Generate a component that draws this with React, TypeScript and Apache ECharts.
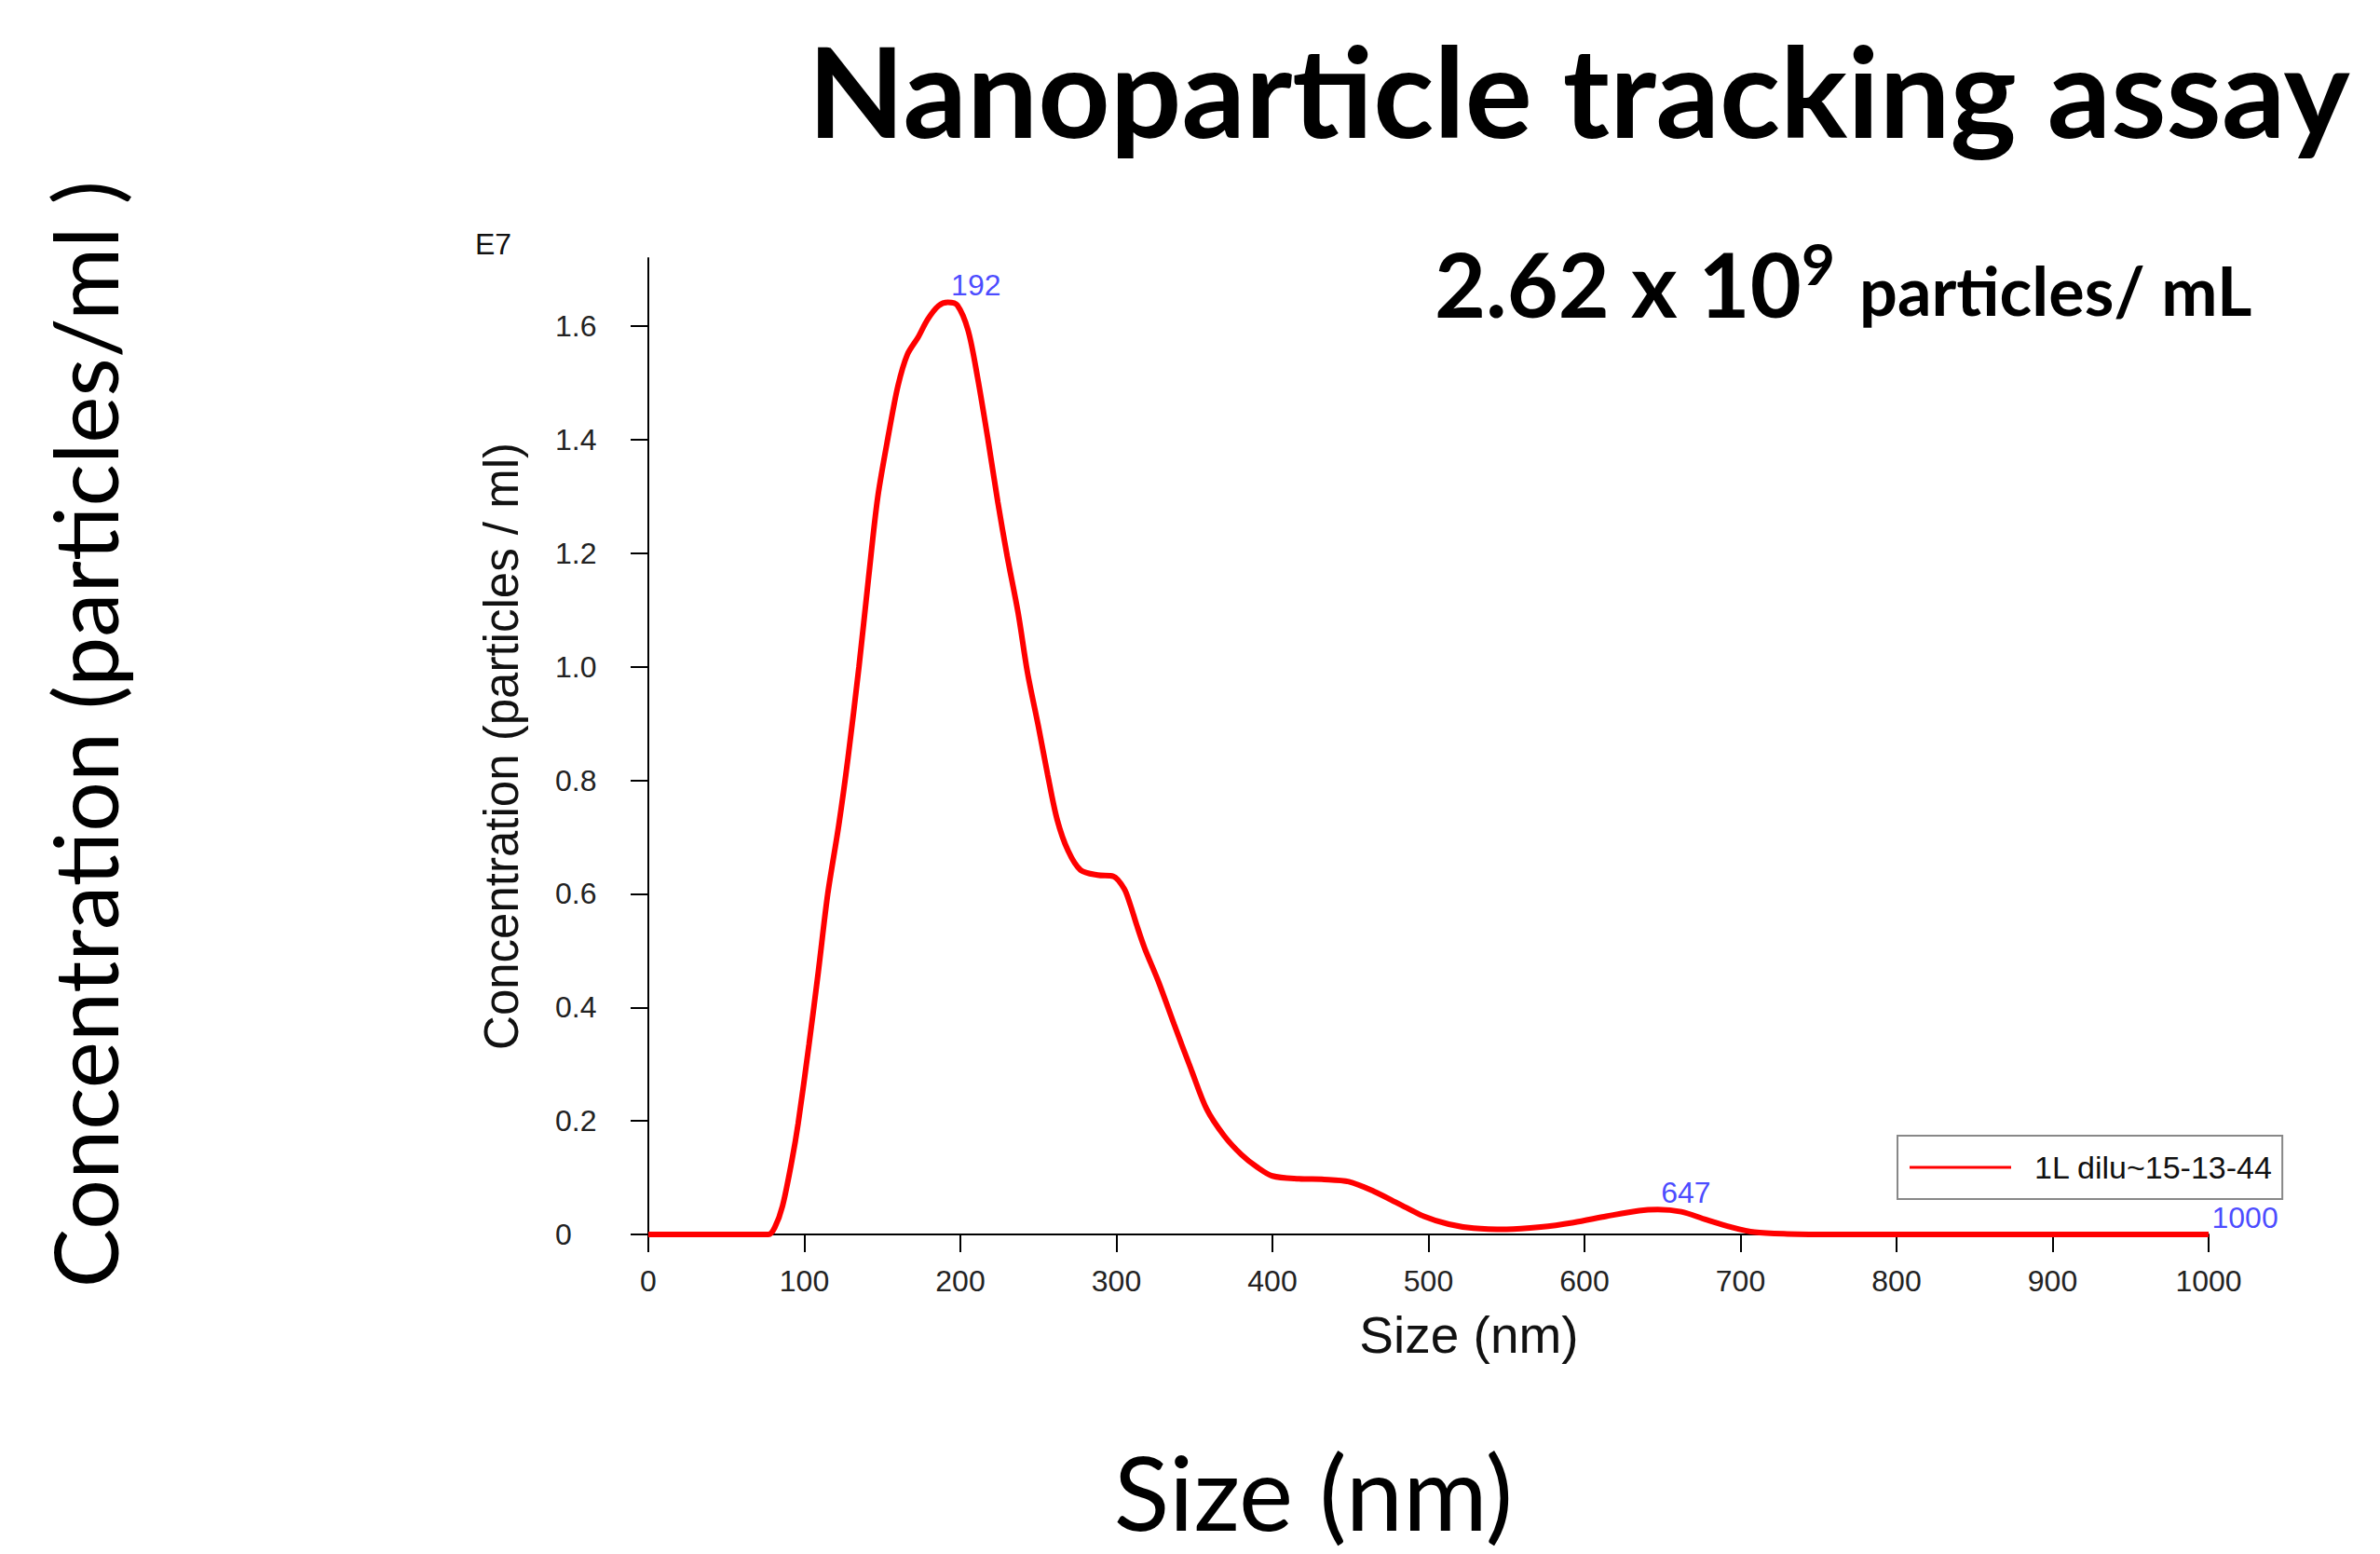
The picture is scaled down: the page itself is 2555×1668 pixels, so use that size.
import React, { useEffect, useRef } from "react";
import * as echarts from "echarts";

// Size (nm)
const sizes = [
  0, 20, 40, 60, 77, 81, 86, 92, 96, 103, 109, 115, 122, 128, 135, 141, 147, 154, 160, 166,
  173, 179, 186, 192, 198, 205, 211, 218, 224, 230, 237, 243, 250, 256, 262, 269, 277, 288,
  298, 305, 309, 313, 318, 327, 337, 348, 358, 369, 380, 390, 400, 417, 433, 449, 465, 481,
  497, 513, 529, 550, 572, 593, 614, 635, 647, 662, 678, 694, 709, 730, 760, 800, 850, 900,
  950, 1000,
];
// Concentration (particles / ml), in units of E7
const concentrations = [
  0, 0, 0, 0, 0, 0.012, 0.05, 0.13, 0.195, 0.335, 0.464, 0.6, 0.72, 0.84, 1.0, 1.153, 1.298, 1.41, 1.495, 1.55,
  1.581, 1.612, 1.636, 1.642, 1.637, 1.592, 1.51, 1.395, 1.29, 1.195, 1.095, 0.99, 0.895, 0.809, 0.731, 0.676, 0.642, 0.633,
  0.631, 0.609, 0.58, 0.545, 0.505, 0.445, 0.37, 0.29, 0.22, 0.174, 0.141, 0.119, 0.103, 0.098, 0.097, 0.093, 0.076, 0.054,
  0.032, 0.018, 0.011, 0.009, 0.013, 0.021, 0.032, 0.042, 0.044, 0.04, 0.026, 0.013, 0.004, 0.001, 0, 0, 0, 0,
  0, 0,
];
const peakSizes = [192, 647, 1000];
const peakConcs = [1.642, 0.044, 0];
const peakLabels = ["192", "647", "1000"];
const yTicks = [0, 0.2, 0.4, 0.6, 0.8, 1.0, 1.2, 1.4, 1.6];
const seriesName = "1L dilu~15-13-44";

const SANS = "Liberation Sans, Arial, sans-serif";
const TITLE = "Lato, Open Sans, sans-serif";

export default function App() {
  const ref = useRef<HTMLDivElement>(null);
  useEffect(() => {
    document.body.style.margin = "0";
    const chart = echarts.init(ref.current!, null, { renderer: "svg" });
    chart.setOption({
      animation: false,
      backgroundColor: "#fff",
      grid: { left: 696, right: 184, top: 277, bottom: 343 },
      legend: {
        data: [seriesName],
        left: 2037,
        top: 1219,
        orient: "vertical",
        borderColor: "#888",
        borderWidth: 2,
        padding: [17, 10, 17, 13],
        itemWidth: 109,
        itemHeight: 3,
        icon: "rect",
        textStyle: { fontFamily: SANS, fontSize: 34, color: "#111", padding: [0, 0, 0, 20] },
      },
      xAxis: {
        type: "value",
        min: 0,
        max: 1000,
        interval: 100,
        name: "Size (nm)",
        nameLocation: "middle",
        nameGap: 80,
        nameTextStyle: { fontFamily: SANS, fontSize: 55, color: "#111", padding: [0, 0, 0, 87] },
        axisLine: { lineStyle: { color: "#000", width: 2 } },
        axisTick: { length: 19, lineStyle: { color: "#000", width: 2 } },
        axisLabel: {
          margin: 34,
          fontFamily: SANS,
          fontSize: 32,
          color: "#222",
          formatter: (v: number) => String(v),
        },
        splitLine: { show: false },
      },
      yAxis: {
        type: "value",
        min: 0,
        max: 1.72,
        name: "Concentration (particles / ml)",
        nameLocation: "middle",
        nameRotate: 90,
        nameGap: 132,
        nameTextStyle: { fontFamily: SANS, fontSize: 51, color: "#111" },
        axisLine: { show: true, lineStyle: { color: "#000", width: 2 } },
        axisTick: { show: true, length: 19, customValues: yTicks, lineStyle: { color: "#000", width: 2 } },
        axisLabel: {
          customValues: yTicks,
          margin: 100,
          align: "left",
          fontFamily: SANS,
          fontSize: 32,
          color: "#222",
          formatter: (v: number) => (v === 0 ? "0" : v.toFixed(1)),
        },
        splitLine: { show: false },
      },
      series: [
        {
          name: seriesName,
          type: "line",
          data: sizes.map((s, i) => [s, concentrations[i]]),
          showSymbol: false,
          smooth: 0.3,
          lineStyle: { color: "#ff0000", width: 6 },
          itemStyle: { color: "#ff0000" },
        },
        {
          name: "peaks",
          type: "scatter",
          data: peakSizes.map((s, i) => [s, peakConcs[i]]),
          symbolSize: 1,
          itemStyle: { color: "rgba(0,0,0,0)" },
          label: {
            show: true,
            position: [4, -2],
            align: "left",
            verticalAlign: "bottom",
            fontFamily: SANS,
            fontSize: 32,
            color: "#1a1aff",
            formatter: (p: any) => peakLabels[p.dataIndex],
          },
          z: 5,
        },
      ],
      graphic: [
        {
          type: "text",
          x: 1695,
          y: 96,
          style: { text: "Nanoparticle tracking assay", fontFamily: TITLE, fontWeight: "bold", fontSize: 135, fill: "#000", align: "center", verticalAlign: "middle" },
        },
        {
          type: "text",
          x: 1540,
          y: 304,
          style: { text: "2.62 x 10", fontFamily: TITLE, fontWeight: "bold", fontSize: 95, fill: "#000", align: "left", verticalAlign: "middle" },
        },
        {
          type: "text",
          x: 1934,
          y: 282,
          style: { text: "9", fontFamily: TITLE, fontWeight: "bold", fontSize: 62, fill: "#000", align: "left", verticalAlign: "middle" },
        },
        {
          type: "text",
          x: 1996,
          y: 311,
          style: { text: "particles/ mL", fontFamily: TITLE, fontWeight: "bold", fontSize: 72, fill: "#000", align: "left", verticalAlign: "middle" },
        },
        {
          type: "text",
          x: 510,
          y: 262,
          style: { text: "E7", fontFamily: SANS, fontSize: 32, fill: "#111", align: "left", verticalAlign: "middle" },
        },
        {
          type: "text",
          x: 90,
          y: 788,
          rotation: Math.PI / 2,
          style: { text: "Concentration (particles/ml )", fontFamily: TITLE, fontSize: 95, fill: "#000", align: "center", verticalAlign: "middle" },
        },
        {
          type: "text",
          x: 1410,
          y: 1600,
          style: { text: "Size (nm)", fontFamily: TITLE, fontSize: 110, fill: "#000", align: "center", verticalAlign: "middle" },
        },
      ],
    });
    return () => chart.dispose();
  }, []);
  return <div ref={ref} style={{ position: "absolute", left: 0, top: 0, width: 2555, height: 1668 }} />;
}
